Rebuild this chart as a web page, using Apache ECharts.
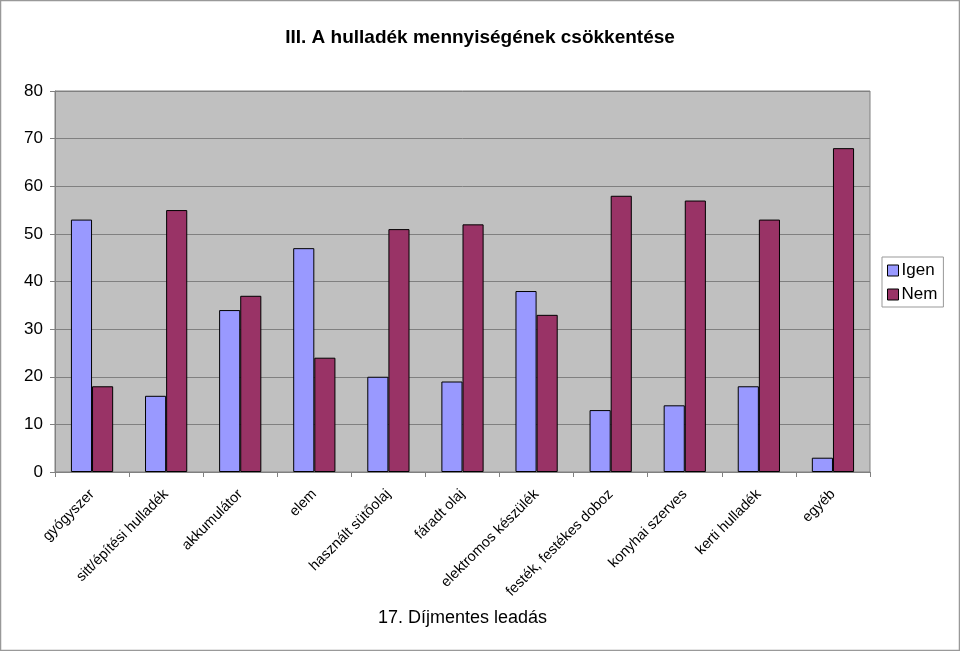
<!DOCTYPE html>
<html><head><meta charset="utf-8">
<script src="https://cdn.jsdelivr.net/npm/echarts@6/dist/echarts.min.js"></script>
<style>html,body{margin:0;padding:0;background:#fff}#c{width:960px;height:651px}</style>
</head><body><div id="c"></div>
<script>
const categories = ["gyógyszer","sitt/építési hulladék","akkumulátor","elem","használt sütőolaj","fáradt olaj","elektromos készülék","festék, festékes doboz","konyhai szerves","kerti hulladék","egyéb"];
const igen = [53,16,34,47,20,19,38,13,14,18,3];
const nem = [18,55,37,24,51,52,33,58,57,53,68];
const yTicks = [0,10,20,30,40,50,60,70,80];

const chart = echarts.init(document.getElementById('c'), null, {renderer:'canvas'});
const font = 'Liberation Sans, Arial, sans-serif';
chart.setOption({
  animation:false,
  backgroundColor:'#fff',
  textStyle:{fontFamily:font},
  title:{text:'III. A hulladék mennyiségének csökkentése', left:'center', top:23,
    textStyle:{fontSize:19,fontWeight:'bold',color:'#000',fontFamily:font}},
  legend:{orient:'vertical', left:882, top:257, data:['Igen','Nem'],
    itemWidth:11,itemHeight:11,itemGap:7, padding:[5,6,4,5],
    borderColor:'#999',borderWidth:1,backgroundColor:'#fff',
    icon:'rect',
    itemStyle:{borderColor:'#000',borderWidth:1},
    textStyle:{fontSize:17,color:'#000',fontFamily:font,padding:[0,0,0,-2]}},
  grid:{left:55,right:90,top:91,bottom:179,show:true,backgroundColor:'#c0c0c0',borderColor:'#808080',borderWidth:1,containLabel:false},
  xAxis:{type:'category',data:categories,
    name:'17. Díjmentes leadás',nameLocation:'middle',nameGap:137,
    nameTextStyle:{fontSize:18,color:'#000',fontFamily:font},
    axisLine:{lineStyle:{color:'#808080'}},
    axisTick:{show:true,length:5,lineStyle:{color:'#808080'}},
    axisLabel:{rotate:45,interval:0,fontSize:14.5,color:'#000',fontFamily:font,margin:20}},
  yAxis:{type:'value',min:0,max:80,interval:10,
    axisLine:{show:true,lineStyle:{color:'#808080'}},
    axisTick:{show:true,length:5,lineStyle:{color:'#808080'}},
    axisLabel:{fontSize:17,color:'#000',fontFamily:font,margin:12,
      formatter:v=>yTicks.includes(v)?String(v):''},
    splitLine:{lineStyle:{color:'#808080',width:1}}},
  series:[
    {name:'Igen',type:'bar',data:igen,barGap:'0%',barCategoryGap:'43%',
      itemStyle:{color:'#9999ff',borderColor:'#000',borderWidth:1}},
    {name:'Nem',type:'bar',data:nem,barGap:'0%',barCategoryGap:'43%',
      itemStyle:{color:'#993366',borderColor:'#000',borderWidth:1}}
  ],
  graphic:[{type:'rect',shape:{x:0.5,y:0.5,width:959,height:650},style:{fill:'none',stroke:'#999',lineWidth:1.5},silent:true}]
});
</script></body></html>
